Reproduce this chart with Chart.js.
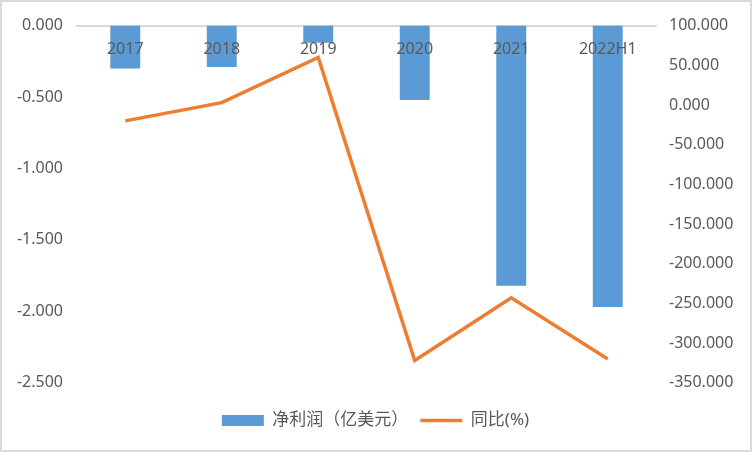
<!DOCTYPE html>
<html>
<head>
<meta charset="utf-8">
<script src="https://cdn.jsdelivr.net/npm/chart.js@4/dist/chart.umd.min.js"></script>
<style>
  html, body { margin: 0; padding: 0; background: #fff; }
  #wrap { width: 752px; height: 452px; box-sizing: border-box; border: 2px solid #d9d9d9; }
</style>
</head>
<body>
<div id="wrap"><canvas id="chart" width="748" height="448"></canvas></div>
<script>
const categories = ['2017', '2018', '2019', '2020', '2021', '2022H1'];
const netProfit = [-0.30, -0.29, -0.12, -0.52, -1.82, -1.97];
const yoyGrowth = [-20, 3, 60, -322, -243, -320];

const FONT = '"Noto Sans", "Noto Sans CJK SC", sans-serif';

// Draw the chart on the canvas
const ctx = document.getElementById('chart').getContext('2d');
new Chart(ctx, {
  data: {
    labels: categories,
    datasets: [
      {
        type: 'line',
        label: '同比(%)',
        data: yoyGrowth,
        yAxisID: 'y1',
        borderColor: '#ED7D31',
        backgroundColor: '#ED7D31',
        borderWidth: 3.5,
        pointRadius: 0,
        pointStyle: 'line',
        tension: 0,
        order: 0
      },
      {
        type: 'bar',
        label: '净利润（亿美元）',
        data: netProfit,
        yAxisID: 'y',
        backgroundColor: '#5B9BD5',
        borderWidth: 0,
        pointStyle: 'rect',
        barPercentage: 1,
        categoryPercentage: 0.31,
        order: 1
      }
    ]
  },
  options: {
    responsive: false,
    animation: false,
    layout: { padding: { top: 13, left: 14, right: 15, bottom: 11 } },
    plugins: {
      legend: {
        position: 'bottom',
        reverse: true,
        title: { display: true, text: ' ', font: { size: 1 }, padding: { top: 16, bottom: 0 } },
        labels: {
          usePointStyle: true,
          pointStyleWidth: 42,
          boxHeight: 11,
          padding: 12,
          color: '#595959',
          font: { family: FONT, size: 17 }
        }
      },
      tooltip: { enabled: false }
    },
    scales: {
      x: {
        position: { y: 0 },
        grid: { display: false, drawTicks: false },
        border: { color: '#d9d9d9', width: 2 },
        ticks: { z: 1, color: '#595959', padding: 14, font: { family: FONT, size: 16 } },
        afterFit: s => { s.paddingLeft = 0; s.paddingRight = 0; }
      },
      y: {
        position: 'left',
        min: -2.5,
        max: 0,
        grid: { display: false, drawTicks: false },
        border: { display: false },
        ticks: {
          stepSize: 0.5,
          padding: 14,
          color: '#595959',
          font: { family: FONT, size: 16 },
          callback: v => v.toFixed(3)
        },
        afterFit: s => { s.width = 61; }
      },
      y1: {
        position: 'right',
        min: -350,
        max: 100,
        grid: { display: false, drawTicks: false },
        border: { display: false },
        ticks: {
          stepSize: 50,
          padding: 13,
          color: '#595959',
          font: { family: FONT, size: 16 },
          callback: v => v.toFixed(3)
        },
        afterFit: s => { s.width = 79; }
      }
    }
  }
});
</script>
</body>
</html>
